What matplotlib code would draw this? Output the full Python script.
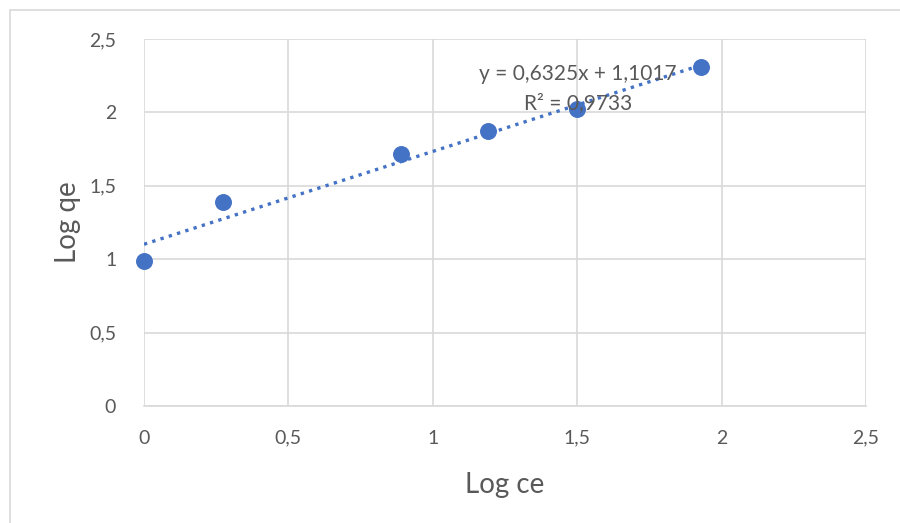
import matplotlib
matplotlib.use("Agg")
import matplotlib.pyplot as plt
import numpy as np
from matplotlib.patches import Rectangle

log_ce = [0.0, 0.275, 0.89, 1.19, 1.50, 1.93]
log_qe = [0.99, 1.39, 1.72, 1.87, 2.02, 2.31]
slope, intercept = 0.6325, 1.1017
xticks = [0, 0.5, 1, 1.5, 2, 2.5]
yticks = [0, 0.5, 1, 1.5, 2, 2.5]
tick_labels = ["0", "0,5", "1", "1,5", "2", "2,5"]

plt.rcParams['font.family'] = ['Lato', 'DejaVu Sans']
blue = "#4472C4"
grid_c = "#D9D9D9"
text_c = "#595959"

fig = plt.figure(figsize=(9, 5.23), dpi=100)
fig.patches.append(Rectangle((10/900, -0.1), 1.0, 1 - 10/523 + 0.1, transform=fig.transFigure,
                             fill=False, edgecolor=grid_c, linewidth=1.2))
ax = fig.add_axes([144/900, 1 - 406/523, (866 - 144)/900, (406 - 39)/523])

ax.set_xlim(0, 2.5)
ax.set_ylim(0, 2.5)
ax.set_xticks(xticks)
ax.set_yticks(yticks)
ax.set_xticklabels(tick_labels)
ax.set_yticklabels(tick_labels)
ax.grid(True, color=grid_c, linewidth=1.2)
ax.set_axisbelow(True)
for s in ["top", "right", "left"]:
    ax.spines[s].set_visible(False)
ax.spines["bottom"].set_color(grid_c)
ax.spines["bottom"].set_linewidth(1.2)
ax.tick_params(length=0, labelsize=14, colors=text_c, pad=17)
ax.tick_params(axis='y', pad=20)

xt = np.array([min(log_ce), max(log_ce)])
ax.plot(xt, slope * xt + intercept, linestyle=(0, (1, 1.6)), color=blue, linewidth=2.4, zorder=2)
ax.scatter(log_ce, log_qe, s=125, color=blue, zorder=3, clip_on=False)

ax.text(1.503, 2.26, "y = 0,6325x + 1,1017", ha="center", va="center", fontsize=15, color=text_c)
ax.text(1.503, 2.06, "R² = 0,9733", ha="center", va="center", fontsize=15, color=text_c)

ax.set_xlabel("Log ce", fontsize=20, color=text_c, labelpad=18)
ax.set_ylabel("Log qe", fontsize=20, color=text_c, labelpad=6)

fig.savefig("out.png", dpi=100)
